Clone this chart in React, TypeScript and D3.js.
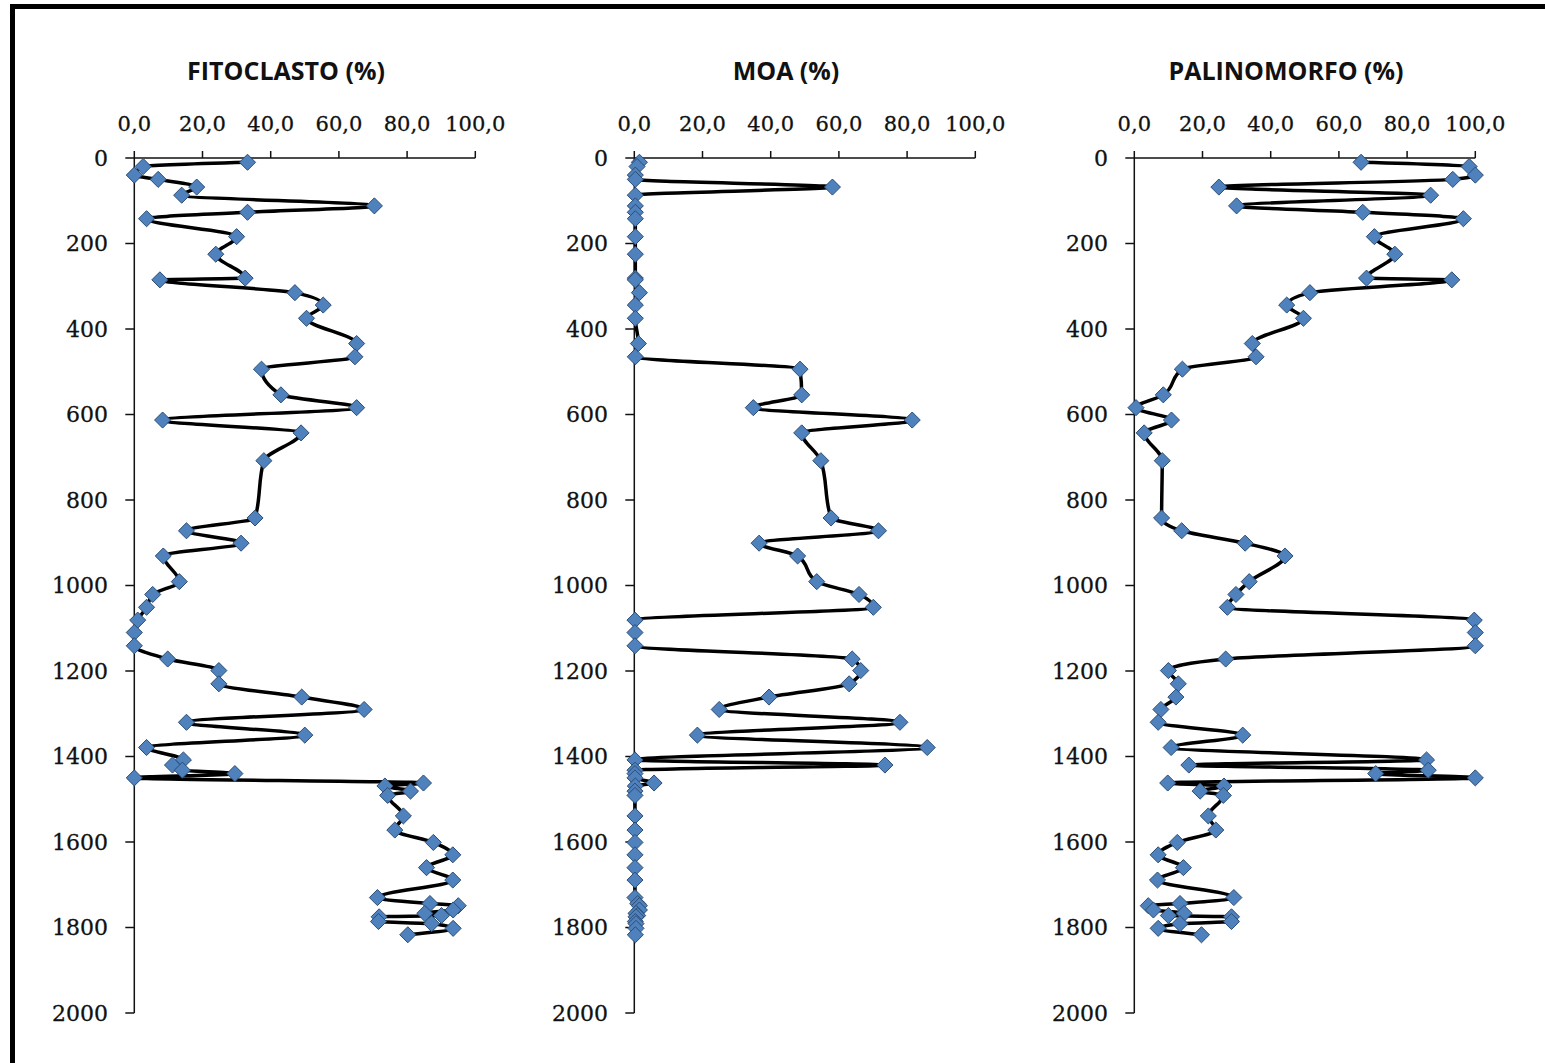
import React from "react";
import * as d3 from "d3";

// Sample depths shared by the three profiles
const DEPTHS = [
  10, 20, 40, 50, 68, 87, 112, 127, 142, 184, 225, 281, 285, 315, 344, 375, 434, 465, 494, 554,
  584, 613, 643, 708, 842, 872, 901, 931, 991, 1021, 1051, 1081, 1110, 1141, 1172, 1199, 1230,
  1261, 1290, 1320, 1350, 1379, 1408, 1420, 1432, 1440, 1450, 1462, 1469, 1481, 1491, 1539,
  1572, 1601, 1630, 1660, 1689, 1730, 1744, 1749, 1759, 1767, 1772, 1775, 1786, 1791, 1802, 1817,
];

const FITOCLASTO = [
  33.2, 2.6, 0, 7.0, 18.3, 13.9, 70.4, 33.2, 3.6, 30.0, 23.9, 32.5, 7.5, 47.1, 55.4, 50.5, 65.2,
  64.7, 37.3, 43.0, 65.2, 8.3, 48.9, 38.0, 35.4, 15.3, 31.3, 8.5, 13.2, 5.4, 3.6, 1.0, 0, 0, 9.8,
  24.8, 24.8, 49.1, 67.4, 15.3, 50.0, 3.6, 14.4, 11.2, 14.1, 29.5, 0, 84.8, 73.5, 81.0, 74.3, 78.9,
  76.4, 87.7, 93.4, 85.7, 93.4, 71.3, 86.7, 95.0, 93.5, 85.2, 90.1, 71.8, 71.6, 87.2, 93.5, 80.2,
];

const MOA = [
  1.5, 0.8, 0.3, 0.3, 58.1, 0.3, 0.3, 0.3, 0.3, 0.3, 0.3, 0.3, 0.3, 1.5, 0.3, 0.3, 1.2, 0.3, 48.6,
  49.1, 34.9, 81.5, 49.1, 54.7, 57.7, 71.6, 36.6, 47.9, 53.5, 65.9, 70.1, 0.2, 0.2, 0.2, 63.9, 66.4,
  63.0, 39.5, 24.9, 77.9, 18.5, 85.9, 0.2, 73.5, 0.2, 0.2, 0.2, 5.8, 0.3, 0.2, 0.2, 0.2, 0.2, 0.2,
  0.2, 0.2, 0.2, 0.2, 1.0, 1.5, 1.5, 0.5, 1.0, 0.5, 0.3, 0.5, 0.5, 0.3,
];

const PALINOMORFO = [
  66.5, 98.2, 100, 93.4, 24.8, 86.9, 30.0, 67.0, 96.5, 70.4, 76.4, 68.1, 93.1, 51.5, 44.7, 49.6,
  34.6, 35.7, 14.1, 8.5, 0.5, 10.9, 2.9, 8.2, 8.0, 13.9, 32.5, 44.2, 33.7, 29.8, 27.3, 99.7, 100,
  100, 26.8, 10.0, 12.9, 12.2, 7.8, 7.0, 31.8, 10.8, 85.7, 16.0, 86.2, 70.8, 100, 9.8, 26.3, 19.3,
  26.1, 21.7, 23.9, 12.6, 7.0, 14.4, 6.8, 29.2, 13.4, 4.1, 5.6, 14.6, 10.0, 28.5, 28.5, 13.4, 7.0,
  19.7,
];

const PANEL_TITLES = ["FITOCLASTO (%)", "MOA (%)", "PALINOMORFO (%)"];
const PANEL_SERIES = [FITOCLASTO, MOA, PALINOMORFO];
const X_TICKS = [0, 20, 40, 60, 80, 100];
const Y_TICKS = [0, 200, 400, 600, 800, 1000, 1200, 1400, 1600, 1800, 2000];

const W = 1545;
const H = 1063;
const PANEL_STEP = 500;
const X0 = 134.3;
const X1 = 475.3;
const Y0 = 158;
const Y1 = 1013;

const fmtX = (v: number) => d3.format(".1f")(v).replace(".", ",");

function Panel({ index }: { index: number }) {
  const dx = index * PANEL_STEP;
  const x = d3.scaleLinear().domain([0, 100]).range([X0 + dx, X1 + dx]);
  const y = d3.scaleLinear().domain([0, 2000]).range([Y0, Y1]);
  const values = PANEL_SERIES[index];
  const pts: [number, number][] = DEPTHS.map((d, i) => [values[i], d]);
  const line = d3
    .line<[number, number]>()
    .x((p) => x(p[0]))
    .y((p) => y(p[1]))
    .curve(d3.curveMonotoneY);
  const diamond = d3.symbol().type(d3.symbolDiamond2).size(165)();
  const titleX = 286 + dx;

  return (
    <g>
      <text
        x={titleX}
        y={80}
        textAnchor="middle"
        fontFamily="'Open Sans', Lato, sans-serif"
        fontWeight={700}
        fontSize={25}
        fill="#111"
      >
        {PANEL_TITLES[index]}
      </text>

      {/* top axis */}
      <line x1={x(0)} x2={x(100)} y1={Y0} y2={Y0} stroke="#111" strokeWidth={1.5} />
      {X_TICKS.map((t) => (
        <g key={t}>
          <line x1={x(t)} x2={x(t)} y1={Y0} y2={Y0 - 7} stroke="#111" strokeWidth={1.5} />
          <text
            x={x(t)}
            y={131}
            textAnchor="middle"
            fontFamily="'DejaVu Serif', serif"
            fontSize={21}
            fill="#111"
            stroke="#111"
            strokeWidth={0.3}
          >
            {fmtX(t)}
          </text>
        </g>
      ))}

      {/* depth axis */}
      <line x1={x(0)} x2={x(0)} y1={Y0} y2={Y1} stroke="#111" strokeWidth={1.5} />
      {Y_TICKS.map((t) => (
        <g key={t}>
          <line x1={x(0) - 9} x2={x(0)} y1={y(t)} y2={y(t)} stroke="#111" strokeWidth={1.5} />
          <text
            x={108 + dx}
            y={y(t) + 7.5}
            textAnchor="end"
            fontFamily="'DejaVu Serif', serif"
            fontSize={22}
            fill="#111"
            stroke="#111"
            strokeWidth={0.3}
          >
            {t}
          </text>
        </g>
      ))}

      <path d={line(pts) || ""} fill="none" stroke="#000" strokeWidth={3.5} strokeLinejoin="round" />
      {pts.map((p, i) => (
        <path
          key={i}
          d={diamond || ""}
          transform={`translate(${x(p[0])},${y(p[1])})`}
          fill="#4F81BD"
          stroke="#2C4D75"
          strokeWidth={1}
        />
      ))}
    </g>
  );
}

export default function App() {
  return (
    <svg
      width={W}
      height={H}
      style={{ position: "absolute", left: 0, top: 0, background: "#fff" }}
    >
      <rect x={0} y={0} width={W} height={H} fill="#fff" />
      <rect x={12.5} y={6.5} width={W + 20} height={H + 20} fill="none" stroke="#000" strokeWidth={5} />
      {[0, 1, 2].map((i) => (
        <Panel key={i} index={i} />
      ))}
    </svg>
  );
}
